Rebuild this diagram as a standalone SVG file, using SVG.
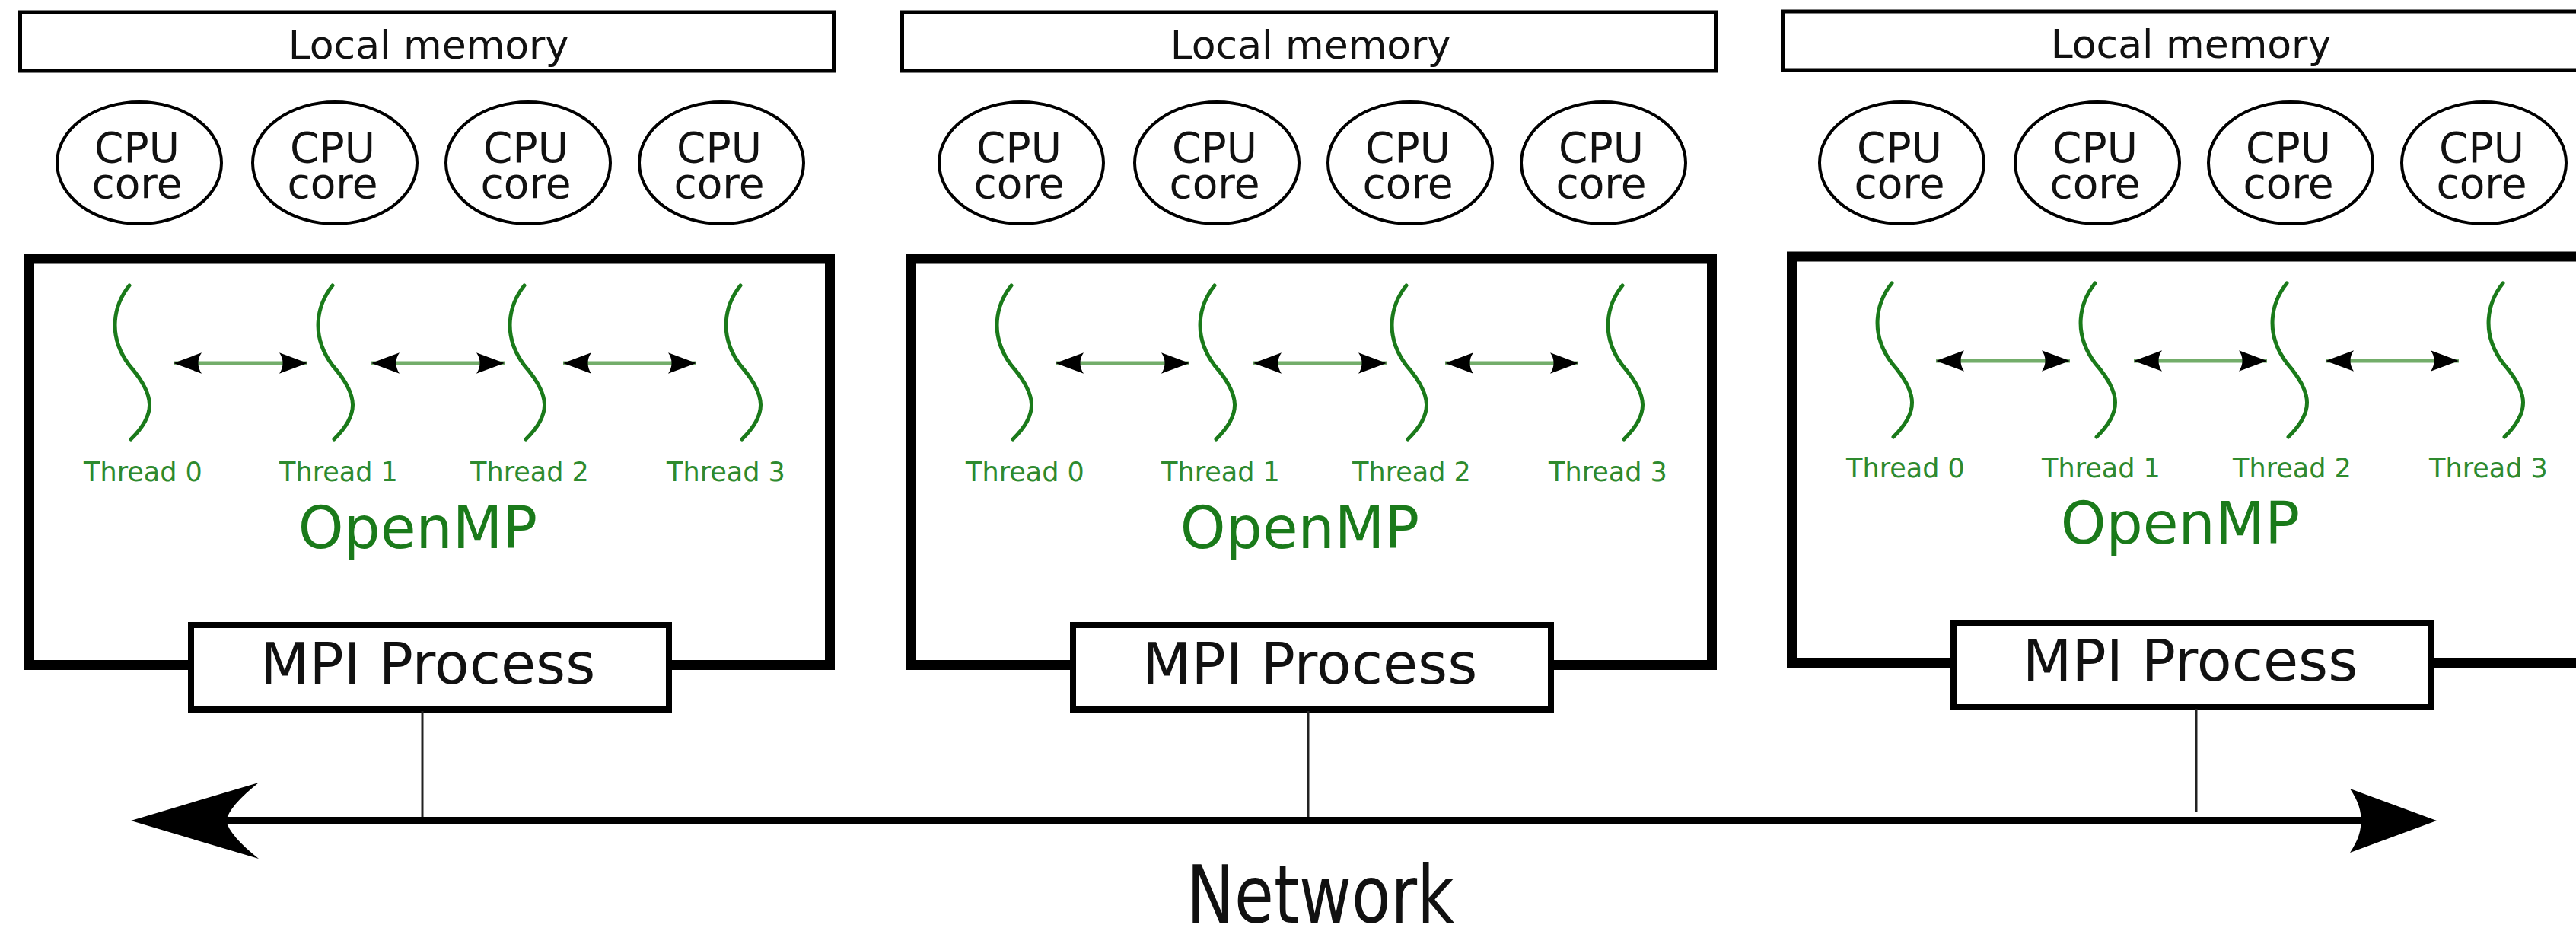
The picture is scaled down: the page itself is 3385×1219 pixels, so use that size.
<svg xmlns="http://www.w3.org/2000/svg" xmlns:xlink="http://www.w3.org/1999/xlink" width="3385" height="1219" viewBox="0 0 3385 1219">
  <style>
    text { font-family: "DejaVu Sans", "Liberation Sans", sans-serif; }
    .mem { fill: #fff; stroke: #000; stroke-width: 5; }
    .mem-t { font-size: 52px; fill: #111; text-anchor: middle; }
    .core { fill: #fff; stroke: #000; stroke-width: 4; }
    .core-t { font-size: 55px; fill: #111; text-anchor: middle; }
    .omp { fill: none; stroke: #000; stroke-width: 13; }
    .omp-t { font-size: 76px; fill: #1a7a1a; text-anchor: middle; }
    .thr { fill: none; stroke: #1a7a1a; stroke-width: 5; stroke-linecap: round; }
    .thr-t { font-size: 35px; fill: #2e8a2e; text-anchor: middle; }
    .mpi { fill: #fff; stroke: #000; stroke-width: 8; }
    .mpi-t { font-size: 75px; fill: #111; text-anchor: middle; }
    .link { stroke: #222; stroke-width: 3; fill: none; }
    .sync { stroke: #73ad6a; stroke-width: 5; fill: none; marker-start: url(#sync-head); marker-end: url(#sync-head); }
    .net { stroke: #000; stroke-width: 10; fill: none; marker-start: url(#net-left); marker-end: url(#net-right); }
    .net-t { font-size: 106px; fill: #111; }
  </style>
  <defs>
    <!-- wavy thread strand, top point at origin -->
    <path id="strand" d="M0,0 C-20,25 -30,65 0,105 C35,145 35,170 2,202"/>
    <!-- small double-headed sync arrow head -->
    <marker id="sync-head" markerUnits="userSpaceOnUse" orient="auto-start-reverse" refX="0" refY="0" markerWidth="80" markerHeight="40" viewBox="-40 -20 80 40" overflow="visible">
      <path d="M0,0 L-37,-13.7 C-31,-5.5 -31,5.5 -37,13.7 Z" fill="#000"/>
    </marker>
    <!-- network bus heads -->
    <marker id="net-left" markerUnits="userSpaceOnUse" orient="auto" refX="0" refY="0" markerWidth="200" markerHeight="120" viewBox="-140 -60 200 120" overflow="visible">
      <path d="M-125,0 L43,-50 Q5,-20 0,0 Q5,20 43,50 Z" fill="#000"/>
    </marker>
    <marker id="net-right" markerUnits="userSpaceOnUse" orient="auto" refX="0" refY="0" markerWidth="140" markerHeight="100" viewBox="-20 -50 140 100" overflow="visible">
      <path d="M100,0 L-14,-42 Q2,-18 0,0 Q2,18 -14,42 Z" fill="#000"/>
    </marker>
  </defs>

  <rect width="3385" height="1219" fill="#fff"/>

  <!-- ===== Node 1 ===== -->
  <g transform="translate(0,0)">
    <g id="mem1"><rect class="mem" x="26.5" y="16" width="1069" height="77"/><text class="mem-t" x="563" y="77">Local memory</text></g>
    <g id="cpu1-0"><ellipse class="core" cx="183" cy="214" rx="108" ry="80"/><text class="core-t" x="180" y="213">CPU</text><text class="core-t" x="180" y="260">core</text></g>
    <g id="cpu1-1"><ellipse class="core" cx="440" cy="214" rx="108" ry="80"/><text class="core-t" x="437" y="213">CPU</text><text class="core-t" x="437" y="260">core</text></g>
    <g id="cpu1-2"><ellipse class="core" cx="694" cy="214" rx="108" ry="80"/><text class="core-t" x="691" y="213">CPU</text><text class="core-t" x="691" y="260">core</text></g>
    <g id="cpu1-3"><ellipse class="core" cx="948" cy="214" rx="108" ry="80"/><text class="core-t" x="945" y="213">CPU</text><text class="core-t" x="945" y="260">core</text></g>
    <g id="omp1"><rect class="omp" x="38.5" y="340" width="1052" height="533.5"/><text class="omp-t" x="549" y="720">OpenMP</text></g>
    <g id="thr1-0"><use href="#strand" class="thr" x="170" y="375"/><text class="thr-t" x="188" y="632">Thread 0</text></g>
    <g id="thr1-1"><use href="#strand" class="thr" x="437" y="375"/><text class="thr-t" x="445" y="632">Thread 1</text></g>
    <g id="thr1-2"><use href="#strand" class="thr" x="689" y="375"/><text class="thr-t" x="696" y="632">Thread 2</text></g>
    <g id="thr1-3"><use href="#strand" class="thr" x="973" y="375"/><text class="thr-t" x="954" y="632">Thread 3</text></g>
    <g id="mpi1"><rect class="mpi" x="251" y="821" width="628" height="111"/><text class="mpi-t" x="562" y="898">MPI Process</text></g>
  </g>

  <!-- ===== Node 2 ===== -->
  <g transform="translate(1159,0)">
    <g id="mem2"><rect class="mem" x="26.5" y="16" width="1069" height="77"/><text class="mem-t" x="563" y="77">Local memory</text></g>
    <g id="cpu2-0"><ellipse class="core" cx="183" cy="214" rx="108" ry="80"/><text class="core-t" x="180" y="213">CPU</text><text class="core-t" x="180" y="260">core</text></g>
    <g id="cpu2-1"><ellipse class="core" cx="440" cy="214" rx="108" ry="80"/><text class="core-t" x="437" y="213">CPU</text><text class="core-t" x="437" y="260">core</text></g>
    <g id="cpu2-2"><ellipse class="core" cx="694" cy="214" rx="108" ry="80"/><text class="core-t" x="691" y="213">CPU</text><text class="core-t" x="691" y="260">core</text></g>
    <g id="cpu2-3"><ellipse class="core" cx="948" cy="214" rx="108" ry="80"/><text class="core-t" x="945" y="213">CPU</text><text class="core-t" x="945" y="260">core</text></g>
    <g id="omp2"><rect class="omp" x="38.5" y="340" width="1052" height="533.5"/><text class="omp-t" x="549" y="720">OpenMP</text></g>
    <g id="thr2-0"><use href="#strand" class="thr" x="170" y="375"/><text class="thr-t" x="188" y="632">Thread 0</text></g>
    <g id="thr2-1"><use href="#strand" class="thr" x="437" y="375"/><text class="thr-t" x="445" y="632">Thread 1</text></g>
    <g id="thr2-2"><use href="#strand" class="thr" x="689" y="375"/><text class="thr-t" x="696" y="632">Thread 2</text></g>
    <g id="thr2-3"><use href="#strand" class="thr" x="973" y="375"/><text class="thr-t" x="954" y="632">Thread 3</text></g>
    <g id="mpi2"><rect class="mpi" x="251" y="821" width="628" height="111"/><text class="mpi-t" x="562" y="898">MPI Process</text></g>
  </g>

  <!-- ===== Node 3 (runs past the right edge) ===== -->
  <g transform="translate(2316,0)">
    <g id="mem3"><rect class="mem" x="26.5" y="15" width="1069" height="77"/><text class="mem-t" x="563" y="76">Local memory</text></g>
    <g id="cpu3-0"><ellipse class="core" cx="183" cy="214" rx="108" ry="80"/><text class="core-t" x="180" y="213">CPU</text><text class="core-t" x="180" y="260">core</text></g>
    <g id="cpu3-1"><ellipse class="core" cx="440" cy="214" rx="108" ry="80"/><text class="core-t" x="437" y="213">CPU</text><text class="core-t" x="437" y="260">core</text></g>
    <g id="cpu3-2"><ellipse class="core" cx="694" cy="214" rx="108" ry="80"/><text class="core-t" x="691" y="213">CPU</text><text class="core-t" x="691" y="260">core</text></g>
    <g id="cpu3-3"><ellipse class="core" cx="948" cy="214" rx="108" ry="80"/><text class="core-t" x="945" y="213">CPU</text><text class="core-t" x="945" y="260">core</text></g>
    <g transform="translate(0,-3)">
      <g id="omp3"><rect class="omp" x="38.5" y="340" width="1052" height="533.5"/><text class="omp-t" x="549" y="717">OpenMP</text></g>
      <g id="thr3-0"><use href="#strand" class="thr" x="170" y="375"/><text class="thr-t" x="188" y="630">Thread 0</text></g>
      <g id="thr3-1"><use href="#strand" class="thr" x="437" y="375"/><text class="thr-t" x="445" y="630">Thread 1</text></g>
      <g id="thr3-2"><use href="#strand" class="thr" x="689" y="375"/><text class="thr-t" x="696" y="630">Thread 2</text></g>
      <g id="thr3-3"><use href="#strand" class="thr" x="973" y="375"/><text class="thr-t" x="954" y="630">Thread 3</text></g>
      <g id="mpi3"><rect class="mpi" x="251" y="821" width="628" height="111"/><text class="mpi-t" x="562" y="897">MPI Process</text></g>
    </g>
  </g>

  <!-- ===== Connectors ===== -->
  <g id="connectors">
    <g transform="translate(0,0)">
      <line class="sync" x1="228" y1="477" x2="404" y2="477"/>
      <line class="sync" x1="488" y1="477" x2="663" y2="477"/>
      <line class="sync" x1="740" y1="477" x2="915" y2="477"/>
    </g>
    <g transform="translate(1159,0)">
      <line class="sync" x1="228" y1="477" x2="404" y2="477"/>
      <line class="sync" x1="488" y1="477" x2="663" y2="477"/>
      <line class="sync" x1="740" y1="477" x2="915" y2="477"/>
    </g>
    <g transform="translate(2316,-3)">
      <line class="sync" x1="228" y1="477" x2="404" y2="477"/>
      <line class="sync" x1="488" y1="477" x2="663" y2="477"/>
      <line class="sync" x1="740" y1="477" x2="915" y2="477"/>
    </g>
    <line class="link" x1="555" y1="934" x2="555" y2="1076"/>
    <line class="link" x1="1719" y1="934" x2="1719" y2="1076"/>
    <line class="link" x1="2886" y1="931" x2="2886" y2="1067"/>
    <line class="net" x1="297" y1="1078" x2="3102" y2="1078"/>
  </g>

  <text class="net-t" x="1559" y="1212" textLength="352" lengthAdjust="spacingAndGlyphs">Network</text>
</svg>
